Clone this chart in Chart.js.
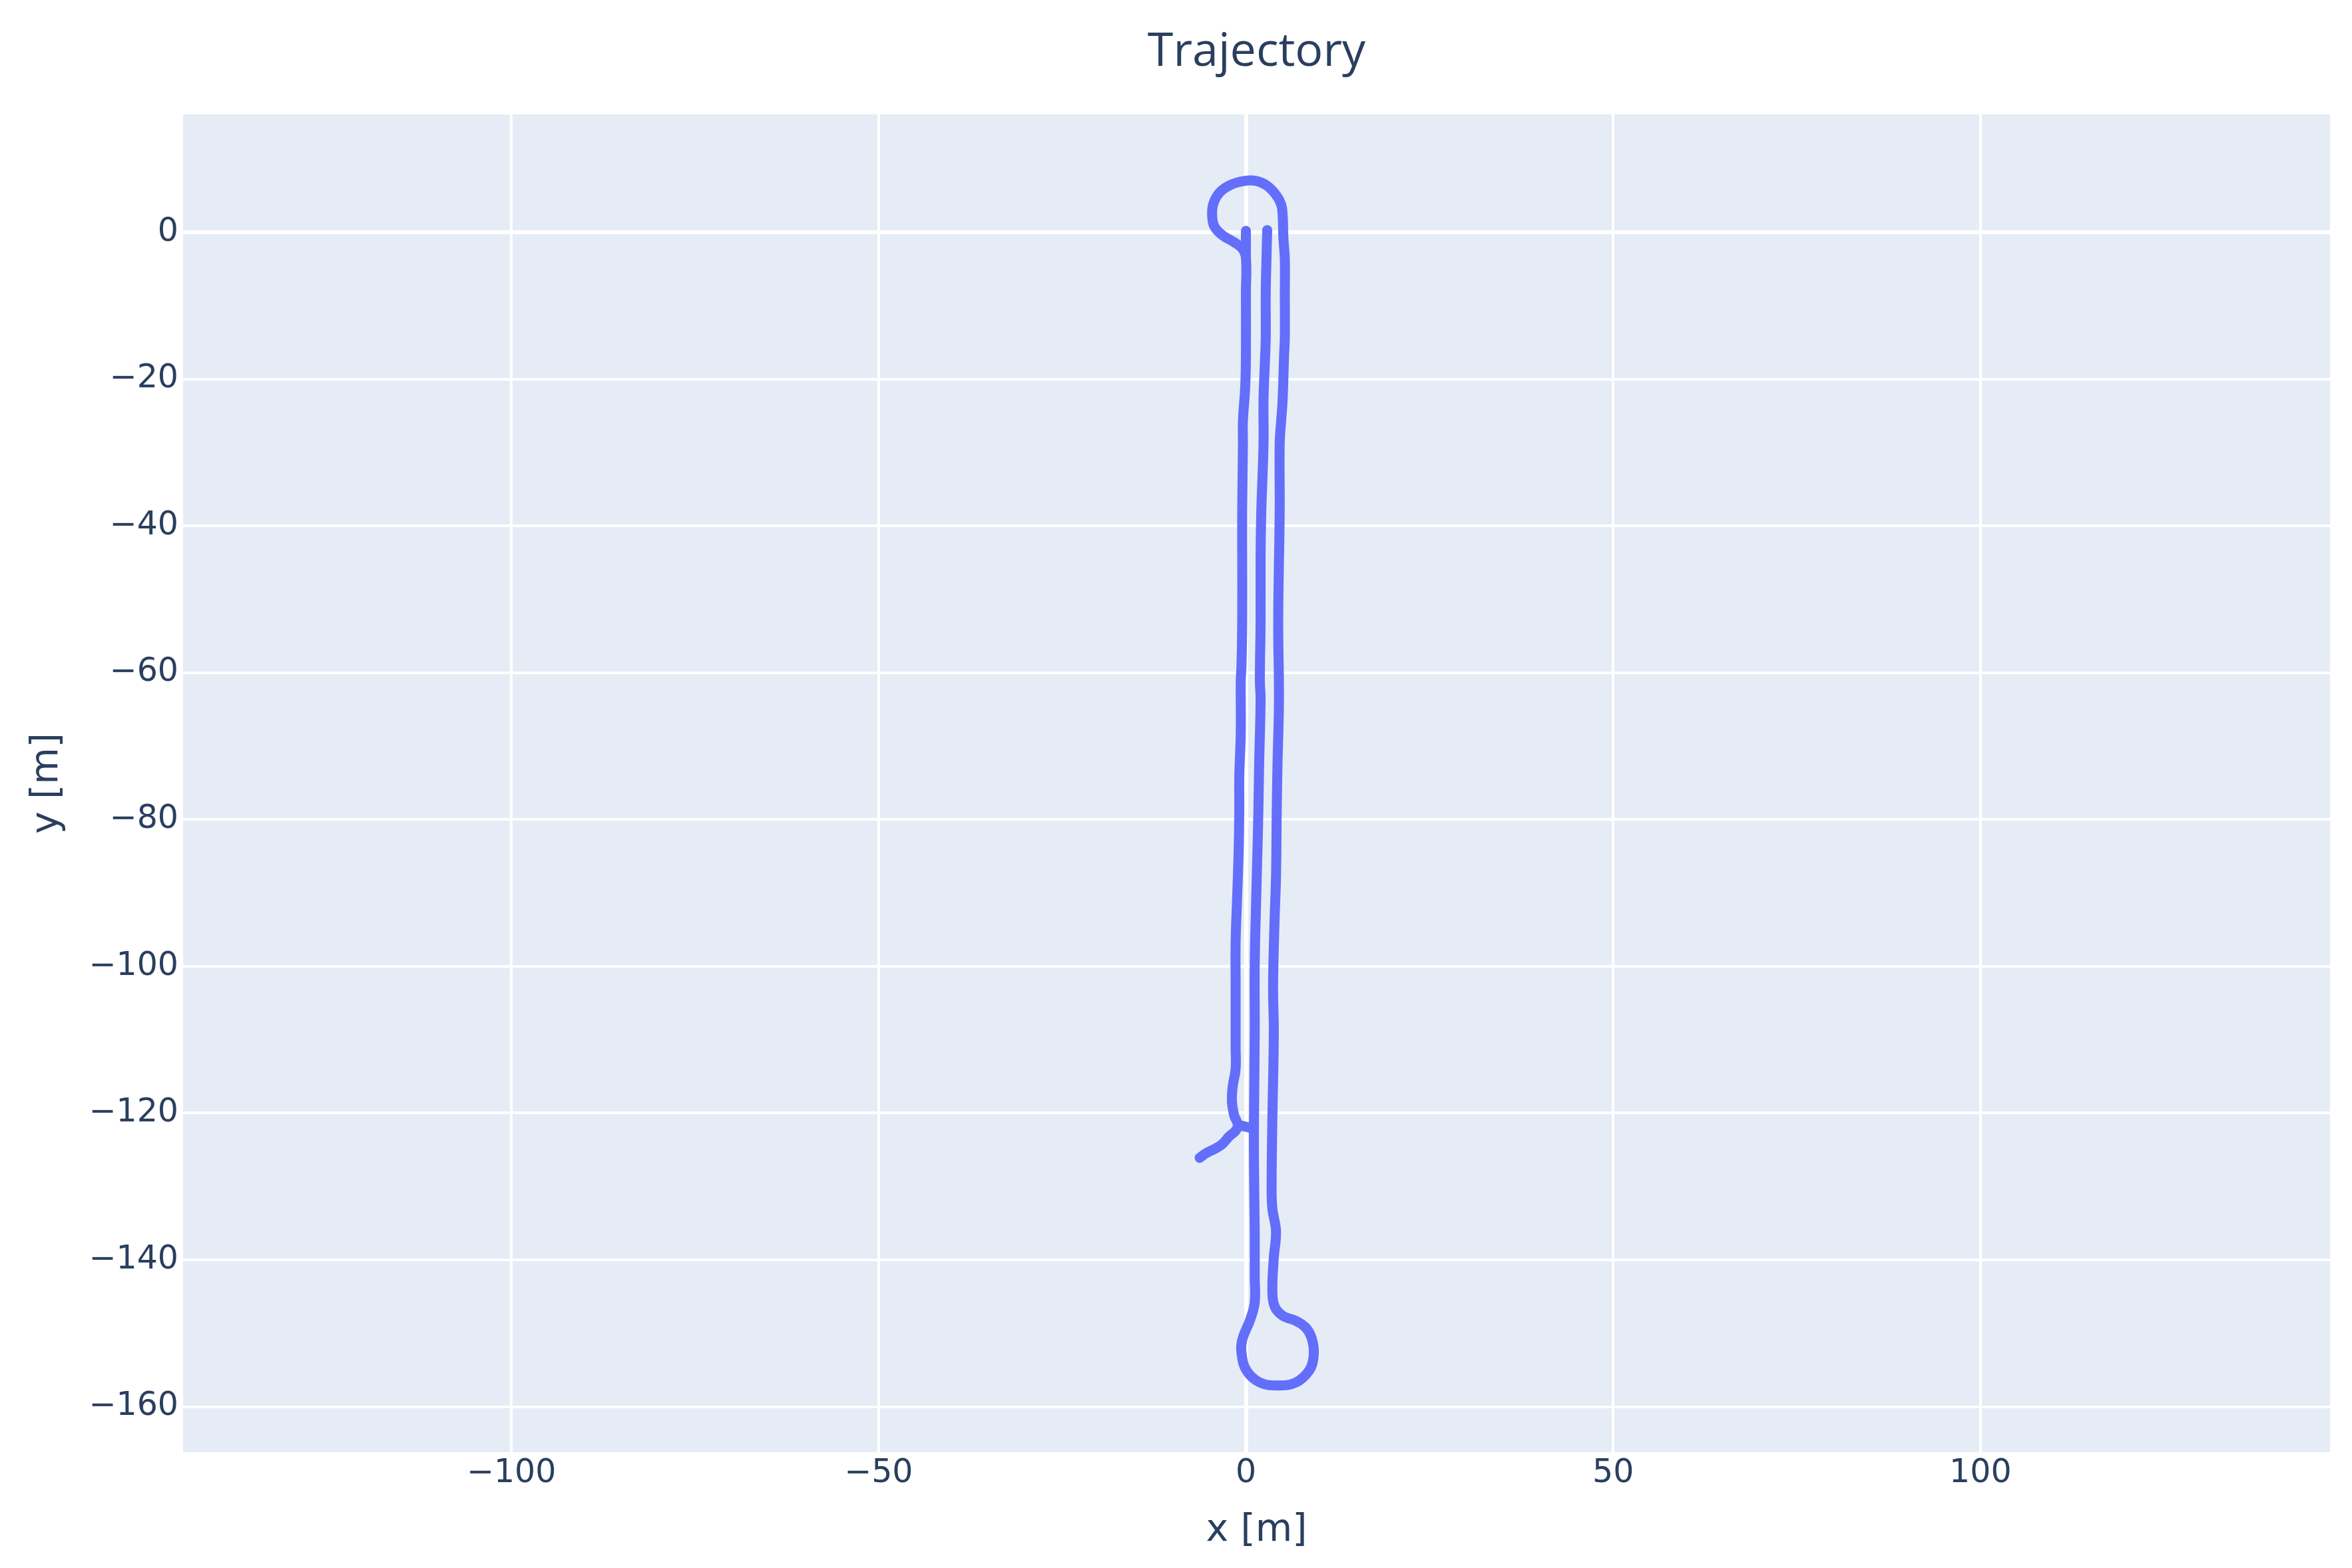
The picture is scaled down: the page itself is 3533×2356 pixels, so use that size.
<!DOCTYPE html>
<html>
<head>
<meta charset="utf-8">
<title>Trajectory</title>
<script src="https://cdn.jsdelivr.net/npm/chart.js@4.4.1/dist/chart.umd.min.js"></script>
<style>
  body { margin: 0; background: #ffffff; }
  canvas { display: block; }
</style>
</head>
<body>
<canvas id="chart" width="3533" height="2356"></canvas>
<script>
// Main run: middle lane down, bottom turn, right lane up, top turn, left lane down, exit
const pathX = [
    2.9, 2.8, 2.7, 2.7, 2.6, 2.4, 2.4, 2.1, 2.0, 2.0, 1.9, 2.0, 1.8, 1.7, 1.6, 1.4, 1.2, 1.2, 1.1, 1.1, 1.2, 1.2, 1.2,
    0.6, -0.5, -0.6, 0.1, 1.9, 4.4, 6.8, 8.6, 9.2, 9.1, 8.3, 6.8, 5.0, 3.9, 3.6,
    3.8, 4.1, 3.6, 3.5, 3.6, 3.8, 3.7, 3.9, 4.1, 4.2, 4.3, 4.5, 4.4, 4.6, 4.6, 4.8, 5.0, 5.2, 5.3, 5.3, 5.3, 5.1, 5.0,
    4.8, 4.1, 2.8, 1.4, -0.2, -2.0, -3.5, -4.4, -4.6, -4.3, -3.2, -1.7, -0.5, 0.0,
    0.0, 0.0, -0.1, -0.4, -0.4, -0.5, -0.5, -0.5, -0.6, -0.7, -0.7, -0.9, -0.9, -1.0, -1.2, -1.4, -1.4, -1.4, -1.4,
    -1.8, -1.9, -1.6, -1.1,
    -1.4, -2.3, -3.2, -4.1, -5.3, -6.3
];
const pathY = [
    0.3, -3.7, -8.3, -14.3, -17.3, -22.8, -28.8, -37.9, -43.9, -52.9, -61.1, -63.6, -72.6, -78.7, -83.2, -90.8, -99.8, -108.9, -121.0, -127.0, -136.1, -142.2, -145.8,
    -148.1, -150.9, -152.7, -155.1, -156.7, -157.1, -156.7, -155.1, -153.3, -151.2, -149.4, -148.3, -147.6, -146.3, -144.2,
    -139.7, -136.1, -133.0, -130.0, -121.0, -108.9, -102.8, -93.8, -87.8, -78.7, -72.6, -63.6, -52.9, -37.9, -28.8, -25.7, -22.8, -16.7, -14.3, -8.3, -3.7, -0.7, 2.4,
    3.8, 5.1, 6.4, 7.0, 7.0, 6.5, 5.5, 4.0, 2.4, 0.8, -0.4, -1.3, -2.2, -3.4,
    -8.3, -17.3, -21.2, -25.7, -28.8, -37.9, -43.9, -52.9, -59.0, -61.1, -68.1, -74.2, -78.7, -84.7, -90.8, -96.8, -102.8, -111.0, -114.0,
    -116.4, -118.5, -120.3, -121.6,
    -122.4, -123.2, -124.2, -124.8, -125.4, -126.1
];
// Short piece at the start of the left lane
const startStubX = [0.0, 0.0];
const startStubY = [0.2, -3.4];
// Short cross link near y = -122
const crossLinkX = [-1.1, 1.0];
const crossLinkY = [-121.6, -122.1];

const xTickValues = [-100, -50, 0, 50, 100];
const yTickValues = [-160, -140, -120, -100, -80, -60, -40, -20, 0];

const lineColor = '#636efa';
const textColor = '#2a3f5f';
const axisFont = '"DejaVu Sans", Verdana, sans-serif';

Chart.defaults.font.family = '"Open Sans", verdana, arial, sans-serif';
Chart.defaults.color = textColor;

function toPoints(xs, ys) {
    return xs.map((x, i) => ({ x: x, y: ys[i] }));
}

function makeDataset(xs, ys, tension) {
    return {
        data: toPoints(xs, ys),
        showLine: true,
        borderColor: lineColor,
        backgroundColor: lineColor,
        borderWidth: 15,
        borderJoinStyle: 'round',
        borderCapStyle: 'round',
        pointRadius: 0,
        tension: tension
    };
}

function minusSign(value) {
    return String(value).replace('-', '\u2212');
}

// Paint the plot background before the grid goes on
const plotBackground = {
    id: 'plotBackground',
    beforeDraw(chart) {
        const { ctx, chartArea } = chart;
        ctx.save();
        ctx.fillStyle = '#ffffff';
        ctx.fillRect(0, 0, chart.width, chart.height);
        ctx.fillStyle = '#e5ecf6';
        ctx.fillRect(chartArea.left, chartArea.top, chartArea.right - chartArea.left, chartArea.bottom - chartArea.top);
        ctx.restore();
    }
};

const gridWidth = ctx => (ctx.tick && ctx.tick.value === 0 ? 6 : 4);

const chart = new Chart(document.getElementById('chart').getContext('2d'), {
    type: 'scatter',
    data: {
        datasets: [
            makeDataset(pathX, pathY, 0.4),
            makeDataset(startStubX, startStubY, 0),
            makeDataset(crossLinkX, crossLinkY, 0)
        ]
    },
    options: {
        responsive: false,
        animation: false,
        devicePixelRatio: 1,
        layout: { padding: { top: 0, right: 33, bottom: 0, left: 0 } },
        plugins: {
            legend: { display: false },
            tooltip: { enabled: false },
            title: {
                display: true,
                text: 'Trajectory',
                fullSize: false,
                color: textColor,
                font: { size: 70, weight: 'normal' },
                padding: { top: 37, bottom: 51 }
            }
        },
        scales: {
            x: {
                type: 'linear',
                min: -144.7,
                max: 147.6,
                afterBuildTicks: scale => { scale.ticks = xTickValues.map(v => ({ value: v })); },
                afterFit: scale => { scale.height = 174; },
                grid: { color: '#ffffff', lineWidth: gridWidth, drawTicks: false },
                border: { display: false },
                ticks: {
                    padding: 3,
                    font: { family: axisFont, size: 49 },
                    color: textColor,
                    callback: value => minusSign(value)
                },
                title: {
                    display: true,
                    text: 'x [m]',
                    color: textColor,
                    font: { family: axisFont, size: 57 },
                    padding: { top: 0, bottom: 22 }
                }
            },
            y: {
                type: 'linear',
                min: -166.2,
                max: 16.05,
                afterBuildTicks: scale => { scale.ticks = yTickValues.map(v => ({ value: v })); },
                afterFit: scale => { scale.width = 275; },
                grid: { color: '#ffffff', lineWidth: gridWidth, drawTicks: false },
                border: { display: false },
                ticks: {
                    padding: 7,
                    font: { family: axisFont, size: 49 },
                    color: textColor,
                    callback: value => minusSign(value)
                },
                title: {
                    display: true,
                    text: 'y [m]',
                    color: textColor,
                    font: { family: axisFont, size: 57 },
                    padding: { top: 37, bottom: 0 }
                }
            }
        }
    },
    plugins: [plotBackground]
});
</script>
</body>
</html>
